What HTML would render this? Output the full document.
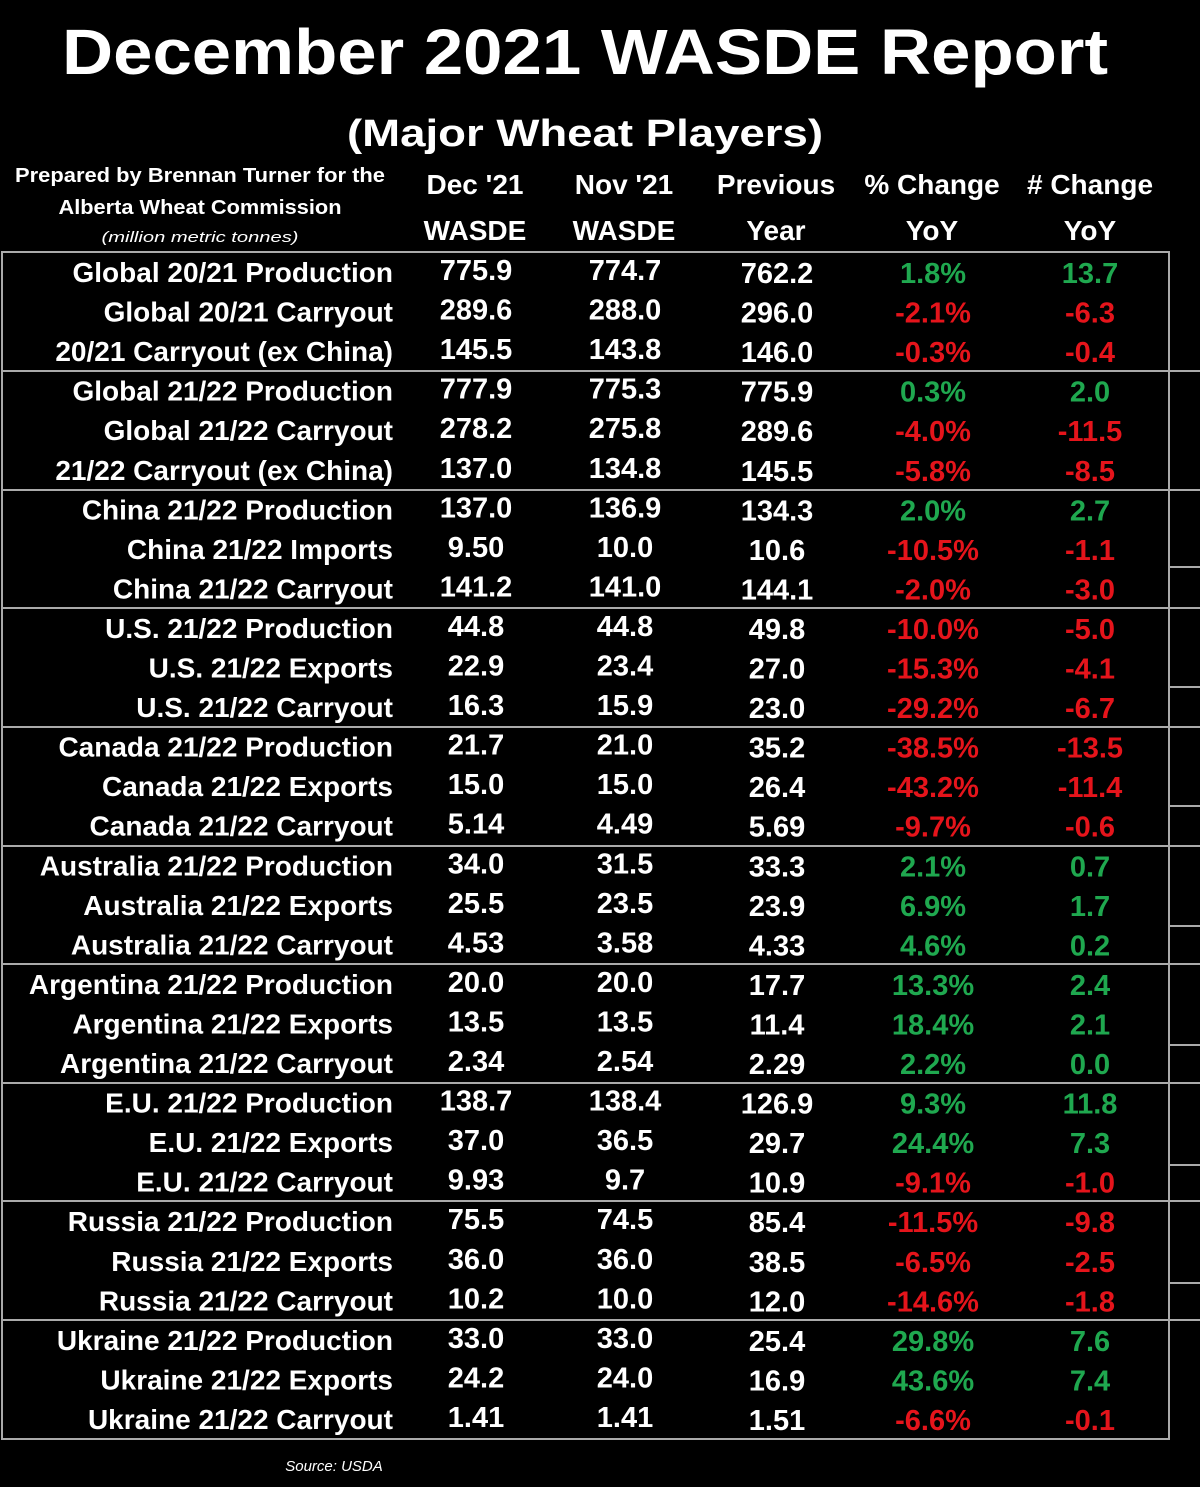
<!DOCTYPE html>
<html><head><meta charset="utf-8"><style>
html,body{margin:0;padding:0;background:#000;}
svg{display:block;}
text{font-family:"Liberation Sans",sans-serif;font-weight:bold;}
</style></head><body>
<svg width="1200" height="1487" viewBox="0 0 1200 1487" xmlns="http://www.w3.org/2000/svg">
<rect width="1200" height="1487" fill="#000"/>
<text x="585" y="74" fill="#fff" font-size="64" text-anchor="middle" textLength="1046" lengthAdjust="spacingAndGlyphs">December 2021 WASDE Report</text>
<text x="585" y="146" fill="#fff" font-size="38" text-anchor="middle" textLength="476" lengthAdjust="spacingAndGlyphs">(Major Wheat Players)</text>
<text x="200" y="182" fill="#fff" font-size="20" text-anchor="middle" textLength="370" lengthAdjust="spacingAndGlyphs">Prepared by Brennan Turner for the</text>
<text x="200" y="214" fill="#fff" font-size="20" text-anchor="middle" textLength="283" lengthAdjust="spacingAndGlyphs">Alberta Wheat Commission</text>
<text x="200" y="242" fill="#fff" font-size="15" font-style="italic" style="font-weight:normal" text-anchor="middle" textLength="197" lengthAdjust="spacingAndGlyphs">(million metric tonnes)</text>
<g fill="#fff" font-size="28" text-anchor="middle">
<text x="475" y="194">Dec '21</text><text x="475" y="240">WASDE</text>
<text x="624" y="194">Nov '21</text><text x="624" y="240">WASDE</text>
<text x="776" y="194">Previous</text><text x="776" y="240">Year</text>
<text x="932" y="194">% Change</text><text x="932" y="240">YoY</text>
<text x="1090" y="194"># Change</text><text x="1090" y="240">YoY</text>
</g>
<g stroke="#aaa" stroke-width="2" fill="none">
<rect x="2" y="252" width="1167" height="1187"/>
<line x1="2" y1="371" x2="1200" y2="371"/>
<line x1="2" y1="490" x2="1200" y2="490"/>
<line x1="2" y1="608" x2="1200" y2="608"/>
<line x1="2" y1="727" x2="1200" y2="727"/>
<line x1="2" y1="846" x2="1200" y2="846"/>
<line x1="2" y1="964" x2="1200" y2="964"/>
<line x1="2" y1="1083" x2="1200" y2="1083"/>
<line x1="2" y1="1201" x2="1200" y2="1201"/>
<line x1="2" y1="1320" x2="1200" y2="1320"/>
<line x1="1169" y1="567" x2="1200" y2="567"/>
<line x1="1169" y1="687" x2="1200" y2="687"/>
<line x1="1169" y1="806" x2="1200" y2="806"/>
<line x1="1169" y1="926" x2="1200" y2="926"/>
<line x1="1169" y1="1045" x2="1200" y2="1045"/>
<line x1="1169" y1="1165" x2="1200" y2="1165"/>
<line x1="1169" y1="1283" x2="1200" y2="1283"/>
</g>
<g id="rows" font-size="28"></g>
<text x="334" y="1471" fill="#fff" font-size="15" font-style="italic" style="font-weight:normal" text-anchor="middle">Source: USDA</text>
</svg>
<script>
var d=[
["Global 20/21 Production","775.9","774.7","762.2","1.8%","13.7"],
["Global 20/21 Carryout","289.6","288.0","296.0","-2.1%","-6.3"],
["20/21 Carryout (ex China)","145.5","143.8","146.0","-0.3%","-0.4"],
["Global 21/22 Production","777.9","775.3","775.9","0.3%","2.0"],
["Global 21/22 Carryout","278.2","275.8","289.6","-4.0%","-11.5"],
["21/22 Carryout (ex China)","137.0","134.8","145.5","-5.8%","-8.5"],
["China 21/22 Production","137.0","136.9","134.3","2.0%","2.7"],
["China 21/22 Imports","9.50","10.0","10.6","-10.5%","-1.1"],
["China 21/22 Carryout","141.2","141.0","144.1","-2.0%","-3.0"],
["U.S. 21/22 Production","44.8","44.8","49.8","-10.0%","-5.0"],
["U.S. 21/22 Exports","22.9","23.4","27.0","-15.3%","-4.1"],
["U.S. 21/22 Carryout","16.3","15.9","23.0","-29.2%","-6.7"],
["Canada 21/22 Production","21.7","21.0","35.2","-38.5%","-13.5"],
["Canada 21/22 Exports","15.0","15.0","26.4","-43.2%","-11.4"],
["Canada 21/22 Carryout","5.14","4.49","5.69","-9.7%","-0.6"],
["Australia 21/22 Production","34.0","31.5","33.3","2.1%","0.7"],
["Australia 21/22 Exports","25.5","23.5","23.9","6.9%","1.7"],
["Australia 21/22 Carryout","4.53","3.58","4.33","4.6%","0.2"],
["Argentina 21/22 Production","20.0","20.0","17.7","13.3%","2.4"],
["Argentina 21/22 Exports","13.5","13.5","11.4","18.4%","2.1"],
["Argentina 21/22 Carryout","2.34","2.54","2.29","2.2%","0.0"],
["E.U. 21/22 Production","138.7","138.4","126.9","9.3%","11.8"],
["E.U. 21/22 Exports","37.0","36.5","29.7","24.4%","7.3"],
["E.U. 21/22 Carryout","9.93","9.7","10.9","-9.1%","-1.0"],
["Russia 21/22 Production","75.5","74.5","85.4","-11.5%","-9.8"],
["Russia 21/22 Exports","36.0","36.0","38.5","-6.5%","-2.5"],
["Russia 21/22 Carryout","10.2","10.0","12.0","-14.6%","-1.8"],
["Ukraine 21/22 Production","33.0","33.0","25.4","29.8%","7.6"],
["Ukraine 21/22 Exports","24.2","24.0","16.9","43.6%","7.4"],
["Ukraine 21/22 Carryout","1.41","1.41","1.51","-6.6%","-0.1"]];
var g=document.getElementById("rows"),ns="http://www.w3.org/2000/svg";
function t(x,y,s,c,a,len,fs){var e=document.createElementNS(ns,"text");e.setAttribute("x",x);e.setAttribute("y",y);e.setAttribute("fill",c);e.setAttribute("text-anchor",a);if(fs)e.setAttribute("font-size",fs);if(len){e.setAttribute("textLength",len);e.setAttribute("lengthAdjust","spacingAndGlyphs");}e.textContent=s;g.appendChild(e);}
var cv=document.createElement("canvas").getContext("2d");cv.font="bold 28px 'Liberation Sans'";
d.forEach(function(r,i){var y=272+39.55*i;
 var w=cv.measureText(r[0]).width*1.0;
 t(393,y+10,r[0],"#fff","end",w);
 t(476,y+8,r[1],"#fff","middle",null,29);
 t(625,y+8,r[2],"#fff","middle",null,29);
 t(777,y+11,r[3],"#fff","middle",null,29);
 var c=r[4].charAt(0)=="-"?"#e5141b":"#1fa84f";
 t(933,y+11,r[4],c,"middle",null,29);
 t(1090,y+11,r[5],c,"middle",null,29);
});
</script>
</body></html>
